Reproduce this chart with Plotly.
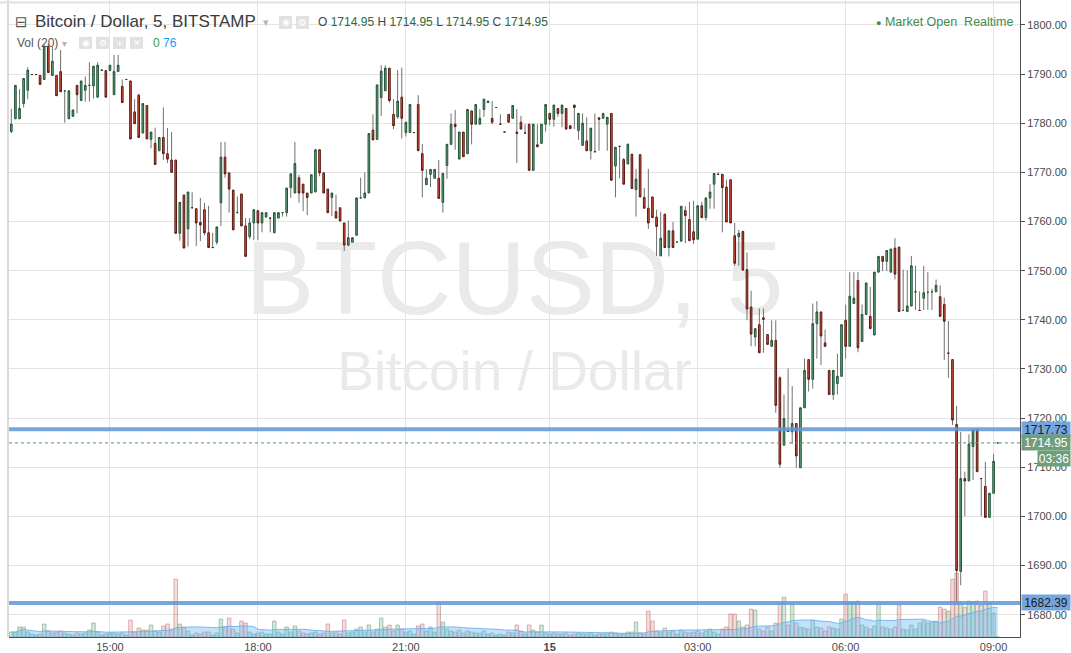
import plotly.graph_objects as go

# ---------------- data (5-minute bars, BITSTAMP BTCUSD) ----------------
opens = [
    1778.3, 1780.9, 1780.9, 1784.0, 1786.7, 1789.9, 1789.9, 1789.7, 1788.9, 1795.6,
    1789.7, 1789.7, 1790.5, 1786.6, 1780.9, 1781.4, 1787.7, 1784.6, 1786.7, 1787.7,
    1787.6, 1785.3, 1790.8, 1790.7, 1790.7, 1785.8, 1790.5, 1787.5, 1788.9, 1788.6,
    1782.3, 1785.7, 1778.0, 1783.6, 1776.7, 1775.9, 1774.4, 1777.1, 1773.8, 1772.5,
    1772.5, 1757.6, 1765.4, 1758.5, 1762.8, 1762.6, 1759.8, 1762.4, 1757.7, 1754.7,
    1755.8, 1763.8, 1773.1, 1769.9, 1766.4, 1761.8, 1765.6, 1759.1, 1756.9, 1759.7,
    1762.2, 1759.7, 1760.9, 1760.7, 1757.7, 1760.7, 1761.8, 1761.8, 1766.9, 1765.8,
    1768.9, 1767.6, 1765.8, 1765.8, 1766.0, 1774.6, 1769.9, 1766.6, 1764.9, 1762.0,
    1762.8, 1759.7, 1755.2, 1755.8, 1757.2, 1764.8, 1764.8, 1765.8, 1778.6, 1776.7,
    1785.2, 1786.6, 1791.2, 1781.8, 1781.3, 1785.3, 1778.1, 1778.1, 1778.1, 1783.8,
    1773.8, 1767.5, 1769.6, 1768.8, 1768.8, 1763.9, 1771.4, 1775.7, 1779.8, 1772.7,
    1778.2, 1773.8, 1782.5, 1779.8, 1779.8, 1782.8, 1784.2, 1781.0, 1783.2, 1779.8,
    1778.2, 1781.8, 1781.0, 1778.2, 1780.2, 1778.0, 1779.8, 1770.4, 1775.6, 1775.9,
    1779.8, 1782.0, 1780.8, 1783.0, 1782.0, 1783.0, 1779.5, 1783.7, 1778.5, 1775.5,
    1776.4, 1774.4, 1774.2, 1781.1, 1781.0, 1779.8, 1782.0, 1771.3, 1775.3, 1772.6,
    1771.7, 1773.7, 1766.5, 1773.6, 1764.9, 1762.7, 1765.0, 1760.9, 1753.0, 1761.5,
    1754.7, 1758.1, 1755.8, 1756.0, 1762.2, 1760.4, 1757.9, 1756.4, 1763.2, 1760.8,
    1764.8, 1767.6, 1769.6, 1769.6, 1767.0, 1768.5, 1757.1, 1756.9, 1758.0, 1750.2,
    1742.6, 1736.5, 1739.0, 1740.4, 1737.0, 1734.6, 1735.8, 1728.2, 1714.5, 1717.5,
    1717.2, 1718.9, 1709.9, 1722.1, 1731.9, 1727.9, 1739.2, 1741.6, 1735.3, 1729.7,
    1724.8, 1727.0, 1728.5, 1739.9, 1734.6, 1743.3, 1748.0, 1735.6, 1741.1, 1740.7,
    1736.9, 1749.7, 1752.9, 1751.9, 1749.7, 1754.6, 1754.8, 1741.9, 1741.7, 1742.8,
    1745.7, 1741.9, 1744.4, 1745.6, 1745.7, 1745.7, 1744.7, 1743.1, 1733.2, 1731.9,
    1718.7, 1688.8, 1707.7, 1707.2, 1714.2, 1717.7, 1707.7, 1706.1, 1699.8, 1704.7,
    1714.95,
]
highs = [
    1782.9, 1787.7, 1786.9, 1789.1, 1791.4, 1789.9, 1789.9, 1789.7, 1796.0, 1796.2,
    1795.6, 1789.7, 1794.9, 1786.6, 1786.6, 1782.7, 1787.7, 1788.6, 1789.5, 1792.4,
    1791.6, 1792.4, 1790.8, 1790.7, 1791.8, 1793.9, 1793.9, 1788.9, 1788.9, 1788.6,
    1784.9, 1786.0, 1784.0, 1783.6, 1778.2, 1779.1, 1777.1, 1783.2, 1779.0, 1778.2,
    1772.5, 1763.9, 1765.4, 1766.0, 1766.0, 1762.6, 1764.8, 1763.8, 1763.2, 1757.7,
    1758.9, 1776.2, 1776.2, 1769.9, 1766.4, 1765.1, 1765.6, 1760.7, 1760.7, 1762.4,
    1762.2, 1761.8, 1761.8, 1760.7, 1761.8, 1761.8, 1761.8, 1766.8, 1769.7, 1776.2,
    1769.5, 1767.6, 1765.8, 1769.5, 1774.6, 1774.6, 1769.9, 1766.6, 1765.8, 1765.5,
    1762.8, 1759.7, 1760.2, 1756.7, 1764.8, 1768.9, 1770.0, 1777.9, 1781.8, 1787.8,
    1791.8, 1791.8, 1791.2, 1784.9, 1790.8, 1791.3, 1780.2, 1783.8, 1778.1, 1785.7,
    1775.8, 1770.6, 1770.6, 1770.6, 1772.5, 1769.8, 1775.7, 1782.0, 1782.7, 1778.2,
    1778.2, 1782.8, 1782.5, 1783.8, 1782.9, 1784.9, 1784.5, 1784.5, 1783.2, 1781.8,
    1778.2, 1781.8, 1783.6, 1782.9, 1781.5, 1779.8, 1779.8, 1779.8, 1779.8, 1779.8,
    1783.8, 1782.0, 1783.7, 1783.0, 1783.7, 1783.0, 1779.5, 1783.7, 1782.0, 1782.0,
    1781.2, 1779.0, 1782.0, 1781.1, 1782.0, 1781.2, 1782.0, 1775.1, 1775.3, 1772.9,
    1775.9, 1773.7, 1770.7, 1773.6, 1766.8, 1770.7, 1765.0, 1762.4, 1762.0, 1761.5,
    1758.1, 1759.9, 1755.8, 1763.1, 1763.1, 1764.0, 1764.2, 1763.2, 1764.0, 1764.8,
    1767.6, 1769.8, 1770.0, 1769.6, 1768.5, 1768.5, 1759.7, 1758.3, 1758.0, 1753.7,
    1745.9, 1738.2, 1742.3, 1742.3, 1737.0, 1739.9, 1739.9, 1728.5, 1724.8, 1730.1,
    1726.5, 1718.9, 1722.1, 1732.1, 1731.9, 1743.3, 1743.8, 1741.6, 1738.0, 1729.7,
    1729.7, 1733.1, 1739.0, 1743.1, 1749.7, 1749.7, 1749.7, 1743.1, 1747.5, 1746.7,
    1749.7, 1752.9, 1752.9, 1754.1, 1754.4, 1756.6, 1754.8, 1750.2, 1750.1, 1753.0,
    1751.0, 1745.8, 1751.0, 1749.7, 1746.3, 1748.2, 1747.0, 1744.5, 1739.8, 1731.9,
    1722.5, 1717.2, 1709.1, 1716.7, 1717.7, 1717.7, 1707.7, 1711.1, 1704.7, 1712.7,
    1714.95,
]
lows = [
    1778.0, 1780.9, 1780.9, 1783.2, 1784.9, 1789.9, 1789.9, 1787.9, 1788.9, 1790.3,
    1789.7, 1785.6, 1786.4, 1780.1, 1780.9, 1781.4, 1782.0, 1784.6, 1784.4, 1784.4,
    1785.0, 1785.3, 1790.8, 1785.3, 1790.7, 1785.8, 1790.5, 1784.2, 1788.9, 1776.8,
    1779.9, 1777.1, 1778.0, 1776.8, 1774.9, 1771.6, 1774.4, 1772.5, 1771.9, 1770.0,
    1757.6, 1756.1, 1754.6, 1754.9, 1762.8, 1755.0, 1756.0, 1757.2, 1754.7, 1754.7,
    1755.3, 1759.1, 1768.9, 1761.8, 1758.3, 1761.8, 1759.1, 1752.9, 1756.4, 1756.2,
    1756.2, 1757.8, 1760.9, 1757.8, 1757.7, 1760.7, 1761.0, 1761.0, 1764.8, 1765.8,
    1763.8, 1762.1, 1761.3, 1765.8, 1766.0, 1769.2, 1765.8, 1761.8, 1761.1, 1760.7,
    1760.1, 1754.0, 1755.0, 1755.8, 1757.2, 1764.8, 1764.8, 1765.8, 1776.6, 1776.7,
    1781.5, 1786.6, 1784.2, 1778.8, 1780.9, 1776.9, 1777.3, 1778.1, 1778.1, 1774.4,
    1764.9, 1767.5, 1767.0, 1768.8, 1764.7, 1761.8, 1768.7, 1775.7, 1774.6, 1772.7,
    1773.2, 1773.8, 1775.7, 1779.8, 1779.8, 1781.3, 1784.2, 1779.8, 1783.2, 1779.8,
    1778.2, 1780.2, 1781.0, 1771.9, 1778.8, 1778.0, 1770.4, 1770.4, 1775.2, 1775.9,
    1778.3, 1779.6, 1779.3, 1781.3, 1779.2, 1778.8, 1778.9, 1778.8, 1776.6, 1775.5,
    1774.4, 1772.6, 1774.2, 1774.4, 1781.0, 1774.4, 1768.4, 1764.9, 1768.8, 1767.6,
    1771.7, 1766.7, 1761.0, 1765.0, 1762.7, 1758.5, 1760.8, 1753.0, 1753.0, 1754.7,
    1752.9, 1754.7, 1755.8, 1756.0, 1755.6, 1756.1, 1755.4, 1756.4, 1760.8, 1760.2,
    1762.6, 1762.6, 1769.6, 1757.8, 1759.9, 1759.7, 1751.0, 1751.0, 1750.1, 1739.9,
    1734.6, 1734.6, 1733.3, 1733.3, 1735.0, 1734.6, 1721.1, 1709.9, 1714.5, 1717.3,
    1714.7, 1709.9, 1709.9, 1722.1, 1725.4, 1726.0, 1732.1, 1730.8, 1734.6, 1724.8,
    1723.7, 1724.8, 1728.5, 1732.1, 1734.6, 1743.3, 1733.4, 1735.6, 1741.1, 1738.2,
    1736.9, 1749.7, 1749.9, 1749.9, 1749.7, 1748.2, 1741.7, 1741.9, 1741.7, 1742.8,
    1742.0, 1741.9, 1742.0, 1742.0, 1742.0, 1745.7, 1740.7, 1731.8, 1728.2, 1718.6,
    1682.4, 1686.0, 1700.0, 1707.2, 1707.4, 1709.1, 1700.0, 1699.8, 1699.8, 1704.7,
    1714.95,
]
closes = [
    1779.8, 1787.7, 1783.0, 1789.1, 1790.8, 1789.9, 1789.9, 1787.9, 1795.7, 1790.3,
    1792.6, 1785.6, 1786.4, 1786.6, 1786.6, 1782.7, 1785.8, 1788.6, 1787.7, 1787.7,
    1791.6, 1791.8, 1790.8, 1785.3, 1791.8, 1790.5, 1791.8, 1784.2, 1788.9, 1776.8,
    1779.9, 1777.1, 1784.0, 1776.8, 1778.2, 1771.6, 1777.1, 1773.8, 1772.7, 1770.0,
    1757.6, 1763.9, 1754.6, 1766.0, 1762.8, 1759.7, 1759.3, 1757.7, 1754.7, 1754.7,
    1758.9, 1773.1, 1769.7, 1766.6, 1758.3, 1761.8, 1759.1, 1752.9, 1759.7, 1762.4,
    1759.7, 1761.8, 1761.8, 1760.7, 1761.8, 1761.8, 1761.8, 1766.8, 1769.7, 1771.8,
    1765.8, 1765.8, 1764.9, 1769.5, 1774.6, 1769.9, 1765.8, 1761.8, 1765.8, 1760.7,
    1760.1, 1755.2, 1756.7, 1756.7, 1764.8, 1764.8, 1765.8, 1777.9, 1776.6, 1787.8,
    1790.6, 1791.2, 1784.6, 1779.5, 1784.5, 1781.0, 1780.2, 1783.8, 1778.1, 1774.4,
    1770.4, 1768.8, 1770.6, 1770.6, 1764.7, 1769.8, 1775.7, 1779.8, 1779.3, 1778.2,
    1773.2, 1782.8, 1779.8, 1783.8, 1781.0, 1784.9, 1784.5, 1780.2, 1783.2, 1779.8,
    1778.2, 1780.2, 1783.6, 1777.9, 1778.8, 1778.0, 1770.4, 1779.8, 1775.2, 1779.8,
    1783.8, 1780.8, 1783.7, 1782.0, 1783.7, 1778.8, 1778.9, 1783.2, 1782.0, 1780.0,
    1774.4, 1779.0, 1774.2, 1780.8, 1782.0, 1781.2, 1768.4, 1775.1, 1775.3, 1767.6,
    1775.7, 1766.7, 1768.6, 1765.0, 1762.7, 1759.7, 1760.8, 1759.0, 1756.6, 1754.7,
    1758.1, 1754.7, 1755.8, 1763.1, 1761.2, 1756.1, 1756.3, 1763.2, 1760.8, 1764.8,
    1766.0, 1769.8, 1769.6, 1766.9, 1759.9, 1759.7, 1751.5, 1757.6, 1750.1, 1742.2,
    1737.1, 1738.2, 1733.3, 1740.1, 1735.0, 1735.8, 1722.6, 1710.6, 1719.9, 1717.3,
    1718.9, 1712.3, 1722.1, 1729.7, 1727.9, 1739.2, 1741.6, 1736.7, 1734.6, 1724.8,
    1729.7, 1728.5, 1739.0, 1734.6, 1744.8, 1744.4, 1734.3, 1741.1, 1747.5, 1738.2,
    1749.7, 1752.9, 1751.9, 1754.1, 1754.4, 1749.3, 1741.7, 1741.9, 1742.8, 1751.0,
    1745.7, 1741.9, 1745.5, 1745.6, 1745.7, 1747.0, 1740.7, 1739.7, 1733.2, 1719.6,
    1689.0, 1707.7, 1707.2, 1714.7, 1717.7, 1709.1, 1707.7, 1699.8, 1704.7, 1711.2,
    1714.95,
]
volumes = [
    5, 5, 10, 10, 5, 3, 2, 3, 13, 6,
    4, 5, 6, 4, 3, 2, 4, 3, 4, 7,
    14, 5, 2, 3, 4, 4, 3, 4, 2, 17,
    5, 9, 7, 7, 12, 6, 5, 11, 13, 8,
    58, 13, 10, 6, 2, 4, 3, 5, 5, 2,
    4, 18, 10, 19, 8, 4, 16, 14, 5, 3,
    4, 5, 3, 3, 16, 5, 3, 10, 5, 11,
    6, 4, 3, 4, 5, 3, 4, 13, 4, 5,
    3, 17, 4, 5, 8, 10, 5, 12, 5, 8,
    19, 10, 12, 6, 12, 8, 5, 6, 3, 11,
    13, 6, 10, 5, 34, 15, 8, 6, 5, 7,
    4, 6, 5, 4, 4, 6, 3, 4, 2, 3,
    2, 5, 4, 12, 6, 3, 12, 7, 5, 12,
    4, 3, 4, 3, 3, 4, 2, 3, 4, 3,
    3, 4, 2, 3, 3, 4, 5, 4, 3, 3,
    5, 5, 15, 4, 3, 26, 16, 6, 5, 9,
    5, 6, 3, 7, 5, 4, 5, 6, 4, 6,
    8, 5, 3, 8, 10, 23, 23, 16, 10, 12,
    28, 27, 8, 6, 10, 6, 14, 33, 40, 12,
    33, 14, 10, 9, 8, 17, 10, 9, 6, 10,
    9, 8, 18, 43, 35, 35, 36, 12, 10, 8,
    11, 33, 10, 9, 8, 10, 32, 8, 7, 12,
    8, 14, 16, 14, 15, 16, 30, 28, 26, 58,
    64, 34, 30, 36, 35, 36, 32, 46, 34, 24,
    0,
]

time_tick_bar = [24, 60, 96, 131, 167, 203, 239]
time_tick_labels = ["15:00", "18:00", "21:00", "<b>15</b>", "03:00", "06:00", "09:00"]
price_ticks = [1680, 1690, 1700, 1710, 1720, 1730, 1740, 1750, 1760, 1770, 1780, 1790, 1800]
level_lines = [1717.73, 1682.39]
last_price = 1714.95
countdown = "03:36"
vol_last, vol_ma_last = "0", "76"

# ---------------- geometry ----------------
FIG_W, FIG_H = 1071, 653
M_L, M_R, M_T, M_B = 9, 51, 0, 14
PW = FIG_W - M_L - M_R
PH = FIG_H - M_T - M_B
BAR_PX = 4.11
X0 = -(11.3 - M_L) / BAR_PX
X_RANGE = [X0, X0 + PW / BAR_PX]
Y_RANGE = [1675.46, 1805.07]
VOL_AXIS_MAX = 639


def fx(px):
    return (px - M_L) / PW


def fy(py):
    return 1 - (py - M_T) / PH


def yval(py):
    return Y_RANGE[0] + fy(py) * (Y_RANGE[1] - Y_RANGE[0])


n = len(closes)
idx = list(range(n))
body_hi = [max(opens[i], closes[i]) for i in idx]
body_lo = [min(opens[i], closes[i]) for i in idx]

wick_x, wick_y = [], []
for i in idx:
    wick_x += [i, i, None]
    wick_y += [min(lows[i], body_lo[i]), max(highs[i], body_hi[i]), None]

up = [closes[i] >= opens[i] for i in idx]
vol_fill = ["rgba(107,165,131,0.28)" if u else "rgba(215,84,66,0.20)" for u in up]
vol_line = ["rgba(100,165,110,0.55)" if u else "rgba(185,120,120,0.55)" for u in up]
vol_ma = []
for i in idx:
    win = volumes[max(0, i - 19): i + 1]
    vol_ma.append(sum(win) / len(win))

FONT = "Liberation Sans, Arial, sans-serif"

fig = go.Figure()

# watermark (base subplot, beneath everything)
x_mid = (X_RANGE[0] + X_RANGE[1]) / 2
fig.add_trace(go.Scatter(
    x=[x_mid, x_mid], y=[yval(289), yval(377)], mode="text",
    text=["BTCUSD, 5", "Bitcoin / Dollar"],
    textfont=dict(family=FONT, size=[103, 55], color="#eaeaea"),
    hoverinfo="skip", showlegend=False, xaxis="x", yaxis="y"))

# wicks
fig.add_trace(go.Scatter(
    x=wick_x, y=wick_y, mode="lines", line=dict(color="#707070", width=1),
    hoverinfo="skip", showlegend=False, xaxis="x", yaxis="y"))

# volume
fig.add_trace(go.Bar(
    x=idx, y=volumes, width=0.85,
    marker=dict(color=vol_fill, line=dict(color=vol_line, width=1)),
    hoverinfo="skip", showlegend=False, xaxis="x", yaxis="y2"))
fig.add_trace(go.Scatter(
    x=idx, y=vol_ma, mode="lines", fill="tozeroy",
    fillcolor="rgba(110,185,245,0.42)", line=dict(color="rgba(100,175,240,0.85)", width=1),
    hoverinfo="skip", showlegend=False, xaxis="x", yaxis="y2"))

# candle bodies
fig.add_trace(go.Candlestick(
    x=idx, open=opens, high=body_hi, low=body_lo, close=closes,
    increasing=dict(fillcolor="#6ba583", line=dict(color="#225437", width=1)),
    decreasing=dict(fillcolor="#d75442", line=dict(color="#5b1a13", width=1)),
    whiskerwidth=0, hoverinfo="skip", showlegend=False, xaxis="x", yaxis="y3"))

shapes = []
for lv in level_lines:
    shapes.append(dict(type="line", xref="paper", x0=0, x1=1, yref="y", y0=lv, y1=lv,
                       line=dict(color="rgba(95,150,215,0.85)", width=4), layer="above"))
shapes.append(dict(type="line", xref="paper", x0=0, x1=1, yref="y", y0=last_price, y1=last_price,
                   line=dict(color="#4e9a5e", width=1, dash="dot"), layer="above"))
# pane borders
shapes.append(dict(type="line", xref="paper", x0=fx(8), x1=fx(8), yref="paper", y0=0, y1=1,
                   line=dict(color="#dadada", width=2), layer="above"))
shapes.append(dict(type="line", xref="paper", x0=fx(0), x1=fx(1020), yref="paper", y0=fy(2.5), y1=fy(2.5),
                   line=dict(color="#e2e2e2", width=2), layer="above"))
# header icon boxes
for (a, b, t, btm) in [(279, 292, 16, 29), (296, 309, 16, 29),
                       (79, 92, 37, 49), (96, 109, 37, 49), (113, 126, 37, 49), (130, 143, 37, 49)]:
    shapes.append(dict(type="rect", xref="paper", yref="paper", x0=fx(a), x1=fx(b),
                       y0=fy(btm), y1=fy(t), fillcolor="#e1e1e1", line=dict(width=0), layer="above"))

ann = []


def text_at(x, y, s, size, color, anchor="left", family=FONT):
    ann.append(dict(xref="paper", yref="paper", x=fx(x), y=fy(y), text=s, showarrow=False,
                    xanchor=anchor, yanchor="middle", font=dict(family=family, size=size, color=color)))


text_at(21, 22, "⊟", 15, "#555555", anchor="center", family="DejaVu Sans")
text_at(33, 22, "Bitcoin / Dollar, 5, BITSTAMP", 17, "#3a3a3a")
text_at(266, 23, "▾", 11, "#b5b5b5", anchor="center", family="DejaVu Sans")
text_at(285.5, 22.5, "◉", 9, "#ffffff", anchor="center", family="DejaVu Sans")
text_at(302.5, 22.5, "⚙", 10, "#ffffff", anchor="center", family="DejaVu Sans")
val = lambda v: '<span style="color:#2b6b3a">%s</span>' % v
ohlc = "O %s H %s L %s C %s" % (val("1714.95"), val("1714.95"), val("1714.95"), val("1714.95"))
text_at(316, 22, ohlc, 12, "#444444")
text_at(15, 43, "Vol (20)", 12, "#555555")
text_at(64, 44, "▾", 10, "#b5b5b5", anchor="center", family="DejaVu Sans")
for cx, g in [(85.5, "◉"), (102.5, "⚙"), (119.5, "+"), (136.5, "✕")]:
    text_at(cx, 43, g, 9, "#ffffff", anchor="center", family="DejaVu Sans")
text_at(151, 43, '<span style="color:#3f9a45">%s</span> <span style="color:#2196f3">%s</span>'
        % (vol_last, vol_ma_last), 12, "#3f9a45")
text_at(1015, 22, '<span style="font-size:9px">●</span> Market Open\u00a0\u00a0Realtime', 12.5,
        "#3e8b4e", anchor="right")


# price scale labels
def price_box(y, s, bg, fg, x_px=1021, w=46, yshift=0):
    ann.append(dict(xref="paper", yref="y", x=fx(x_px), y=y, text=s, showarrow=False,
                    xanchor="left", yanchor="middle", yshift=yshift, bgcolor=bg, width=w, height=13,
                    borderpad=1, align="center", font=dict(family=FONT, size=12, color=fg)))


price_box(level_lines[0], "%.2f" % level_lines[0], "#74a5dc", "#1c1c1c")
price_box(last_price, "%.2f" % last_price, "#6e9e7b", "#ffffff")
price_box(last_price, countdown, "#6e9e7b", "#ffffff", x_px=1037, w=30, yshift=-16)
price_box(level_lines[1], "%.2f" % level_lines[1], "#74a5dc", "#1c1c1c")

fig.update_layout(
    width=FIG_W, height=FIG_H,
    margin=dict(l=M_L, r=M_R, t=M_T, b=M_B, pad=0),
    paper_bgcolor="white", plot_bgcolor="white",
    showlegend=False, hovermode=False, boxgap=0.42,
    shapes=shapes, annotations=ann,
    xaxis=dict(range=X_RANGE, tickvals=time_tick_bar, ticktext=time_tick_labels,
               showgrid=True, gridcolor="#e4e4e4", gridwidth=1, zeroline=False,
               showline=True, linecolor="#4d4d4d", linewidth=1, ticks="",
               tickfont=dict(family=FONT, size=11, color="#4a4a4a"),
               rangeslider=dict(visible=False), fixedrange=True),
    yaxis=dict(range=Y_RANGE, side="right", tickvals=price_ticks,
               ticktext=["%.2f" % p for p in price_ticks],
               showgrid=True, gridcolor="#e4e4e4", gridwidth=1, zeroline=False,
               showline=True, linecolor="#4d4d4d", linewidth=1,
               ticks="outside", ticklen=4, tickcolor="#4d4d4d",
               tickfont=dict(family=FONT, size=11, color="#4a4a4a"), fixedrange=True),
    yaxis2=dict(range=[0, VOL_AXIS_MAX], overlaying="y", visible=False, fixedrange=True),
    yaxis3=dict(range=Y_RANGE, overlaying="y", visible=False, fixedrange=True),
)

fig.write_html("out.html", config={"displayModeBar": False},
               post_script="document.body.style.margin='0';document.body.style.overflow='hidden';")
